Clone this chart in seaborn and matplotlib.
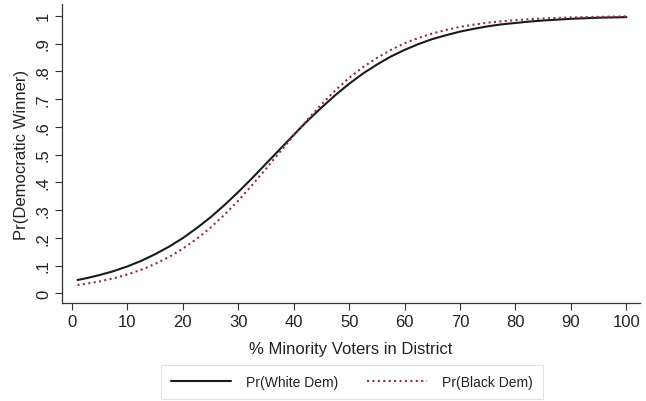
import matplotlib
matplotlib.use("Agg")
import matplotlib.pyplot as plt
from matplotlib.lines import Line2D
import seaborn as sns
import pandas as pd

# Data
minority_pct = [1, 2.5, 5, 7.5, 10, 12.5, 15, 17.5, 20, 22.5, 25, 27.5, 30, 32.5, 35, 37.5,
                40, 42.5, 45, 47.5, 50, 52.5, 55, 57.5, 60, 62.5, 65, 67.5, 70, 72.5, 75,
                77.5, 80, 82.5, 85, 87.5, 90, 92.5, 95, 97.5, 100]
pr_white_dem = [0.048, 0.054, 0.066, 0.080, 0.097, 0.117, 0.141, 0.168, 0.199, 0.235, 0.274,
                0.318, 0.365, 0.415, 0.467, 0.519, 0.571, 0.622, 0.669, 0.714, 0.755, 0.792,
                0.824, 0.853, 0.877, 0.898, 0.916, 0.930, 0.943, 0.953, 0.962, 0.969, 0.974,
                0.979, 0.983, 0.986, 0.989, 0.991, 0.993, 0.994, 0.995]
pr_black_dem = [0.030, 0.034, 0.043, 0.054, 0.068, 0.085, 0.106, 0.131, 0.161, 0.196, 0.237,
                0.283, 0.334, 0.390, 0.449, 0.509, 0.569, 0.626, 0.681, 0.731, 0.776, 0.815,
                0.848, 0.877, 0.901, 0.920, 0.936, 0.949, 0.960, 0.968, 0.975, 0.980, 0.984,
                0.988, 0.990, 0.992, 0.994, 0.995, 0.996, 0.997, 0.998]
series_names = ["Pr(White Dem)", "Pr(Black Dem)"]
x_ticks = [0, 10, 20, 30, 40, 50, 60, 70, 80, 90, 100]
y_ticks = [0, 0.1, 0.2, 0.3, 0.4, 0.5, 0.6, 0.7, 0.8, 0.9, 1.0]
y_tick_labels = ["0", ".1", ".2", ".3", ".4", ".5", ".6", ".7", ".8", ".9", "1"]

sns.set_style("white")
plt.rcParams["font.family"] = ["Liberation Sans", "DejaVu Sans"]

df = pd.DataFrame({
    "x": minority_pct * 2,
    "y": pr_white_dem + pr_black_dem,
    "series": [series_names[0]] * len(minority_pct) + [series_names[1]] * len(minority_pct),
})

solid_col = "#1a1a1a"
dot_col = "#8e2f3c"

fig = plt.figure(figsize=(6.46, 4.02), dpi=100)
ax = fig.add_axes([0.096, 0.243, 0.895, 0.745])

sns.lineplot(data=df, x="x", y="y", hue="series", style="series",
             palette={series_names[0]: solid_col, series_names[1]: dot_col},
             dashes={series_names[0]: "", series_names[1]: (1, 1.6)},
             linewidth=1.5, ax=ax, legend=False)

ax.set_xlim(-1.8, 102.5)
ax.set_ylim(-0.036, 1.043)
ax.set_xticks(x_ticks)
ax.set_xticklabels([str(t) for t in x_ticks], fontsize=12, color="#222222")
ax.set_yticks(y_ticks)
ax.set_yticklabels(y_tick_labels, fontsize=12, rotation=90, va="center", color="#222222")
ax.tick_params(axis="both", direction="out", length=5, width=0.8, color="#333333",
               bottom=True, left=True, pad=3)
for s in ["top", "right"]:
    ax.spines[s].set_visible(False)
for s in ["left", "bottom"]:
    ax.spines[s].set_color("#333333")
    ax.spines[s].set_linewidth(0.9)

ax.set_xlabel("% Minority Voters in District", fontsize=12, color="#222222", labelpad=8)
ax.set_ylabel("Pr(Democratic Winner)", fontsize=12, color="#222222", labelpad=5)

handles = [Line2D([0], [0], color=solid_col, lw=1.5),
           Line2D([0], [0], color=dot_col, lw=1.5, linestyle=(0, (1, 1.6)))]
leg = fig.legend(handles, series_names, loc="center", bbox_to_anchor=(0.545, 0.047),
                 ncol=2, fontsize=10, frameon=True, fancybox=False, handlelength=4.3,
                 columnspacing=2.1, borderpad=0.72, handletextpad=1.1,
                 borderaxespad=0)
leg.get_frame().set_edgecolor("#d8dde0")
leg.get_frame().set_linewidth(0.8)
for t in leg.get_texts():
    t.set_color("#222222")

fig.savefig("out.png", dpi=100)
